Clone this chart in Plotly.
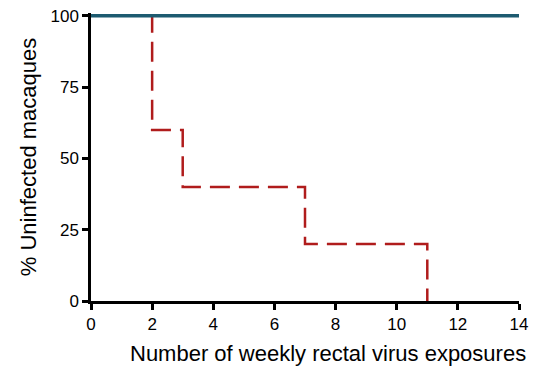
import plotly.graph_objects as go

# Data
exposures_ctrl = [0, 2, 3, 7, 11]
uninfected_ctrl = [100, 60, 40, 20, 0]
exposures_treated = [0, 14]
uninfected_treated = [100, 100]

x_ticks = [0, 2, 4, 6, 8, 10, 12, 14]
y_ticks = [0, 25, 50, 75, 100]

fig = go.Figure()
fig.add_trace(go.Scatter(
    x=exposures_ctrl, y=uninfected_ctrl, mode="lines", line_shape="hv",
    line=dict(color="#b01c1c", width=2.5, dash="20px,9px"),
    showlegend=False, hoverinfo="skip"))
fig.add_trace(go.Scatter(
    x=exposures_treated, y=uninfected_treated, mode="lines",
    line=dict(color="#1d5b70", width=3.5), showlegend=False,
    hoverinfo="skip"))

font = "Liberation Sans, Arial, sans-serif"
fig.update_layout(
    width=533, height=371,
    margin=dict(l=91, r=14, t=13, b=70),
    paper_bgcolor="white", plot_bgcolor="white",
    font=dict(family=font, color="black", size=17),
    xaxis=dict(range=[0, 14], tickvals=x_ticks, ticks="outside", ticklen=6,
               tickwidth=2.5, tickcolor="black", showline=True, linecolor="black",
               linewidth=2.5, showgrid=False, zeroline=False, automargin=False,
               tickfont=dict(size=17)),
    yaxis=dict(range=[0, 101], tickvals=y_ticks, ticks="outside", ticklen=6,
               tickwidth=2.5, tickcolor="black", showline=True, linecolor="black",
               linewidth=2.5, showgrid=False, zeroline=False, automargin=False,
               tickfont=dict(size=17),
               title=dict(text="% Uninfected macaques", font=dict(size=22), standoff=8)),
    annotations=[dict(text="Number of weekly rectal virus exposures", x=1, y=0,
                      xref="paper", yref="paper", xanchor="right", yanchor="top",
                      xshift=9, yshift=-38, showarrow=False, font=dict(size=22))],
)

fig.write_html("out.html", config={"displayModeBar": False},
               post_script="document.body.style.margin='0';")
